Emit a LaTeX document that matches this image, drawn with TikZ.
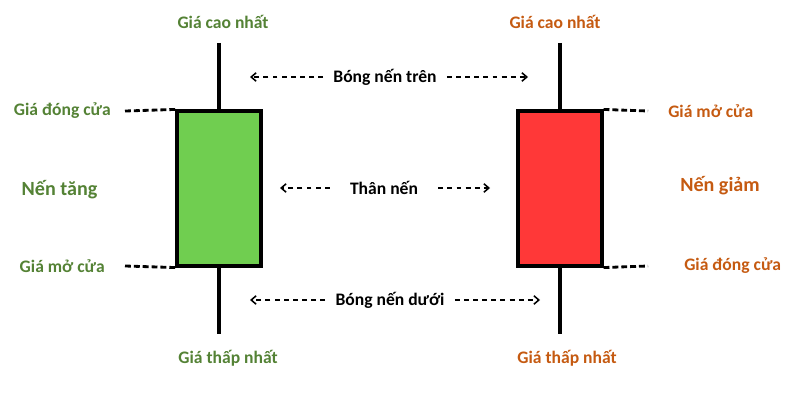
\documentclass[tikz,border=0pt]{standalone}
\usepackage{fontspec}
\setmainfont{Carlito}
\usetikzlibrary{arrows.meta}
\definecolor{gtxt}{RGB}{84,130,53}
\definecolor{otxt}{RGB}{197,90,17}
\definecolor{gfill}{RGB}{112,206,80}
\definecolor{rfill}{RGB}{255,56,56}
\begin{document}
\begin{tikzpicture}[x=0.025cm,y=-0.025cm,
  lbl/.style={font=\bfseries\fontsize{12.5}{14}\selectfont, inner sep=0pt},
  big/.style={font=\bfseries\fontsize{14.3}{16}\selectfont, inner sep=0pt},
  wick/.style={line width=2.2pt},
  body/.style={draw=black, line width=2.2pt},
  lvl/.style={line width=2pt, dash pattern=on 4.2pt off 2.1pt},
  ptr/.style={line width=1.1pt, dash pattern=on 3.5pt off 3pt, -{Straight Barb[length=3.5pt,width=6pt,line width=1.1pt]}}
]
\useasboundingbox (0,0) rectangle (800,400);
% green candle
\coordinate (gt) at (219,43);
\coordinate (gb) at (219,334);
\node[body, fill=gfill, minimum width=84*0.025cm, minimum height=155*0.025cm, inner sep=0pt] (gbox) at (219,188.5) {};
\draw[wick] (gt) -- (gbox.north);
\draw[wick] (gbox.south) -- (gb);
% red candle
\coordinate (rt) at (560,43);
\coordinate (rb) at (560,334);
\node[body, fill=rfill, minimum width=84*0.025cm, minimum height=155*0.025cm, inner sep=0pt] (rbox) at (560,188.5) {};
\draw[wick] (rt) -- (rbox.north);
\draw[wick] (rbox.south) -- (rb);
% green labels
\node[lbl, text=gtxt] (ghigh) at (223,22) {Giá cao nhất};
\node[lbl, text=gtxt, anchor=east] (gclose) at (111,111) {Giá đóng cửa};
\node[big, text=gtxt] (gname) at (59.5,190) {Nến tăng};
\node[lbl, text=gtxt, anchor=east] (gopen) at (105,266) {Giá mở cửa};
\node[lbl, text=gtxt] (glow) at (228,358) {Giá thấp nhất};
\coordinate (gc1) at (125,111);
\coordinate (go1) at (125,266);
\draw[lvl] (gc1) -- (gbox.north west);
\draw[lvl] (go1) -- (gbox.south west);
% red labels
\node[lbl, text=otxt] (rhigh) at (555,22) {Giá cao nhất};
\node[lbl, text=otxt, anchor=west] (ropen) at (668,111) {Giá mở cửa};
\node[big, text=otxt] (rname) at (720,186) {Nến giảm};
\node[lbl, text=otxt, anchor=west] (rclose) at (684,266) {Giá đóng cửa};
\node[lbl, text=otxt] (rlow) at (567,358) {Giá thấp nhất};
\coordinate (ro1) at (648,111);
\coordinate (rc1) at (648,266);
\draw[lvl] (rbox.north east) -- (ro1);
\draw[lvl] (rbox.south east) -- (rc1);
% middle labels
\node[lbl] (upper) at (385,77) {Bóng nến trên};
\node[lbl] (bodyl) at (384,188) {Thân nến};
\node[lbl] (lower) at (390,300) {Bóng nến dưới};
\coordinate (u1) at (250,77);
\coordinate (u2) at (528,77);
\coordinate (b1) at (280,188);
\coordinate (b2) at (490,188);
\coordinate (l1) at (250,300);
\coordinate (l2) at (540,300);
\draw[ptr] ([xshift=-10*0.025cm]upper.west) -- (u1);
\draw[ptr] ([xshift=10*0.025cm]upper.east) -- (u2);
\draw[ptr] ([xshift=-20*0.025cm]bodyl.west) -- (b1);
\draw[ptr] ([xshift=20*0.025cm]bodyl.east) -- (b2);
\draw[ptr] ([xshift=-10*0.025cm]lower.west) -- (l1);
\draw[ptr] ([xshift=10*0.025cm]lower.east) -- (l2);
\end{tikzpicture}
\end{document}
